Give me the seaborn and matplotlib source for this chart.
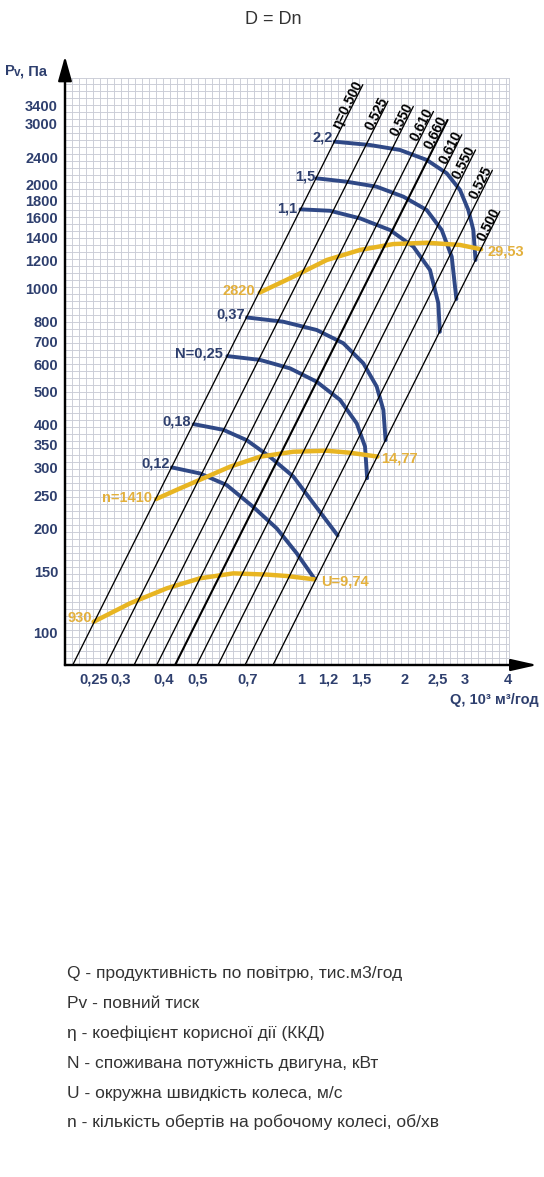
import matplotlib
matplotlib.use('Agg')
import matplotlib.pyplot as plt
import numpy as np
import pandas as pd
import seaborn as sns
from matplotlib.ticker import FixedLocator, NullFormatter

# axis ticks
y_ticks = [100, 150, 200, 250, 300, 350, 400, 500, 600, 700, 800, 1000,
           1200, 1400, 1600, 1800, 2000, 2400, 3000, 3400]
x_ticks = [0.25, 0.3, 0.4, 0.5, 0.7, 1, 1.2, 1.5, 2, 2.5, 3, 4]
x_tick_labels = ['0,25', '0,3', '0,4', '0,5', '0,7', '1', '1,2', '1,5', '2', '2,5', '3', '4']

# efficiency lines (P ~ Q^2): Q where each line crosses 100 Pa, and P at its upper end
eta_labels = ['η=0.500', '0.525', '0.550', '0.610', '0.660', '0.610', '0.550', '0.525', '0.500']
eta_q100 = [0.2427, 0.3034, 0.3660, 0.4259, 0.4816, 0.5566, 0.6421, 0.7692, 0.9277]
eta_p_top = [3900, 3490, 3370, 3260, 3080, 2790, 2520, 2200, 1670]

# fan curves (blue), labelled by motor power N, kW
n_labels = ['2,2', '1,5', '1,1', '0,37', 'N=0,25', '0,18', '0,12']
n_q = [
    [1.255, 1.590, 1.944, 2.325, 2.658, 2.905, 3.071, 3.176, 3.223],
    [1.110, 1.361, 1.663, 1.988, 2.325, 2.570, 2.748, 2.835],
    [0.999, 1.217, 1.487, 1.818, 2.125, 2.376, 2.512, 2.538],
    [0.698, 0.890, 1.113, 1.330, 1.521, 1.663, 1.739, 1.765],
    [0.612, 0.762, 0.931, 1.113, 1.301, 1.455, 1.538, 1.560],
    [0.489, 0.596, 0.697, 0.814, 0.952, 1.088, 1.280],
    [0.422, 0.510, 0.609, 0.728, 0.852, 0.974, 1.098],
]
n_p = [
    [2663, 2604, 2519, 2356, 2155, 1927, 1685, 1474, 1206],
    [2084, 2037, 1970, 1843, 1685, 1474, 1233, 929],
    [1693, 1677, 1594, 1474, 1319, 1128, 903, 746],
    [821, 798, 755, 691, 604, 517, 442, 361],
    [634, 618, 584, 534, 473, 404, 346, 280],
    [402, 387, 361, 323, 283, 237, 191],
    [301, 289, 267.5, 231, 200, 169.3, 142.6],
]
n_offsets = [(-2, 4), (-1, 2), (-3, 1), (-2, 2.5), (-4, 3), (-3, 3), (-2, 4)]

# constant speed curves (yellow): rpm at the start, tip speed U at the end
rpm_labels = ['2820', 'n=1410', '930']
u_labels = ['29,53', '14,77', 'U=9,74']
rpm_q = [
    [0.760, 0.952, 1.190, 1.487, 1.858, 2.325, 2.905, 3.345],
    [0.380, 0.446, 0.521, 0.623, 0.762, 0.952, 1.190, 1.391, 1.672],
    [0.250, 0.319, 0.408, 0.510, 0.637, 0.796, 0.911, 1.095],
]
rpm_p = [
    [970, 1079, 1206, 1290, 1342, 1354, 1334, 1296],
    [243.6, 261.6, 279.8, 302.4, 323.4, 334.3, 336.5, 332, 323.6],
    [107.1, 121.2, 134, 143.3, 148.1, 146.9, 145.5, 142.3],
]
rpm_offsets = [(-5, 2), (-4, 1), (-2, 4)]
u_offsets = [(6, -2), (4, -2), (7, -2)]

legend_lines = [
    'Q - продуктивність по повітрю, тис.м3/год',
    'Pv - повний тиск',
    'η - коефіцієнт корисної дії (ККД)',
    'N - споживана потужність двигуна, кВт',
    'U - окружна швидкість колеса, м/с',
    'n - кількість обертів на робочому колесі, об/хв',
]

sns.set_style('white')
plt.rcParams['font.family'] = ['Liberation Sans', 'DejaVu Sans']

NAVY = '#2e3f6e'
BLUE = '#2f4886'
GOLD = '#e8b522'
GOLD_TXT = '#e3b03c'
GRID = '#c9ccd6'

W, H = 544, 1177
fig = plt.figure(figsize=(W / 100, H / 100), dpi=100)
ax = fig.add_axes([65 / W, 1 - 665 / H, 444 / W, 587 / H])
ax.set_xscale('log')
ax.set_yscale('log')
xmin, xmax, ymin, ymax = 0.2064, 4.032, 80.2, 4078
ax.set_xlim(xmin, xmax)
ax.set_ylim(ymin, ymax)

# graph paper grid
step = 7 / 344
gx = 10 ** np.arange(np.log10(xmin), np.log10(xmax), step)
gy = 10 ** np.arange(np.log10(ymin), np.log10(ymax), step)
ax.xaxis.set_minor_locator(FixedLocator(gx))
ax.yaxis.set_minor_locator(FixedLocator(gy))
ax.xaxis.set_minor_formatter(NullFormatter())
ax.yaxis.set_minor_formatter(NullFormatter())
ax.grid(which='minor', color=GRID, lw=0.65)
ax.grid(which='major', visible=False)
ax.set_axisbelow(True)

ax.set_xticks(x_ticks)
ax.set_xticklabels(x_tick_labels)
ax.set_yticks(y_ticks)
ax.set_yticklabels([str(v) for v in y_ticks])
ax.tick_params(which='minor', length=0)
ax.tick_params(axis='y', which='major', direction='out', length=4.5, width=1.3,
               color=NAVY, pad=0.5, labelsize=10.5, labelcolor=NAVY)
ax.tick_params(axis='x', which='major', direction='out', length=3.5, width=1.3,
               color=NAVY, pad=2, labelsize=10.5, labelcolor=NAVY)
for lab in ax.get_xticklabels() + ax.get_yticklabels():
    lab.set_fontweight('bold')

for s in ['top', 'right']:
    ax.spines[s].set_color(GRID)
    ax.spines[s].set_linewidth(0.65)
for s in ['left', 'bottom']:
    ax.spines[s].set_color('black')
    ax.spines[s].set_linewidth(1.6)

# axis arrows
ax.annotate('', xy=(1.064, 0), xytext=(0, 0), xycoords='axes fraction',
            arrowprops=dict(arrowstyle='-|>,head_length=1.6,head_width=0.36',
                            color='black', lw=1.6, shrinkA=0, shrinkB=0),
            annotation_clip=False)
ax.annotate('', xy=(0, 1.037), xytext=(0, 0), xycoords='axes fraction',
            arrowprops=dict(arrowstyle='-|>,head_length=1.5,head_width=0.42',
                            color='black', lw=1.6, shrinkA=0, shrinkB=0),
            annotation_clip=False)

# fan curves
for lab, q, p, off in zip(n_labels, n_q, n_p, n_offsets):
    sns.lineplot(x=q, y=p, ax=ax, color=BLUE, lw=2.8, sort=False, estimator=None, zorder=3)
    ax.annotate(lab, xy=(q[0], p[0]), xytext=off, textcoords='offset pixels',
                ha='right', va='center', fontsize=10.5, fontweight='bold', color=NAVY)

# speed curves
for lab, ulab, q, p, off, uoff in zip(rpm_labels, u_labels, rpm_q, rpm_p, rpm_offsets, u_offsets):
    sns.lineplot(x=q, y=p, ax=ax, color=GOLD, lw=3.2, sort=False, estimator=None, zorder=3)
    ax.annotate(lab, xy=(q[0], p[0]), xytext=off, textcoords='offset pixels',
                ha='right', va='center', fontsize=10.5, fontweight='bold', color=GOLD_TXT)
    ax.annotate(ulab, xy=(q[-1], p[-1]), xytext=uoff, textcoords='offset pixels',
                ha='left', va='center', fontsize=10.5, fontweight='bold', color=GOLD_TXT)

# efficiency lines
angle = np.degrees(np.arctan(2.0))
for i, (lab, q100, ptop) in enumerate(zip(eta_labels, eta_q100, eta_p_top)):
    p_line = np.array([70.0, ptop])
    q_line = q100 * np.sqrt(p_line / 100.0)
    sns.lineplot(x=q_line, y=p_line, ax=ax, color='black', lw=1.5 if i == 4 else 0.95,
                 sort=False, estimator=None, zorder=4)
    ax.annotate(lab, xy=(q_line[1], p_line[1]), xytext=(0, 1), textcoords='offset pixels',
                ha='right', va='baseline', rotation=angle, rotation_mode='anchor',
                fontsize=10, fontweight='bold', color='black', zorder=5)

# axis titles
fig.text(5 / W, 1 - 75 / H, 'P', fontsize=10.5, fontweight='bold', color=NAVY)
fig.text(14 / W, 1 - 76 / H, 'v', fontsize=8.5, fontweight='bold', color=NAVY)
fig.text(20 / W, 1 - 75 / H, ', Па', fontsize=10.5, fontweight='bold', color=NAVY)
fig.text(539 / W, 1 - 704 / H, 'Q, 10³ м³/год', fontsize=10.5, fontweight='bold',
         color=NAVY, ha='right')

fig.text(273 / W, 1 - 24 / H, 'D = Dn', fontsize=13, color='#333333', ha='center',
         family=['Liberation Sans Narrow', 'Liberation Sans'])

baselines = [978, 1008, 1038, 1068, 1098, 1127]
for txt, yb in zip(legend_lines, baselines):
    fig.text(67 / W, 1 - yb / H, txt, fontsize=12.5, color='#333333',
             family=['Liberation Sans Narrow', 'Liberation Sans'])

fig.savefig('out.png', dpi=100, facecolor='white')
